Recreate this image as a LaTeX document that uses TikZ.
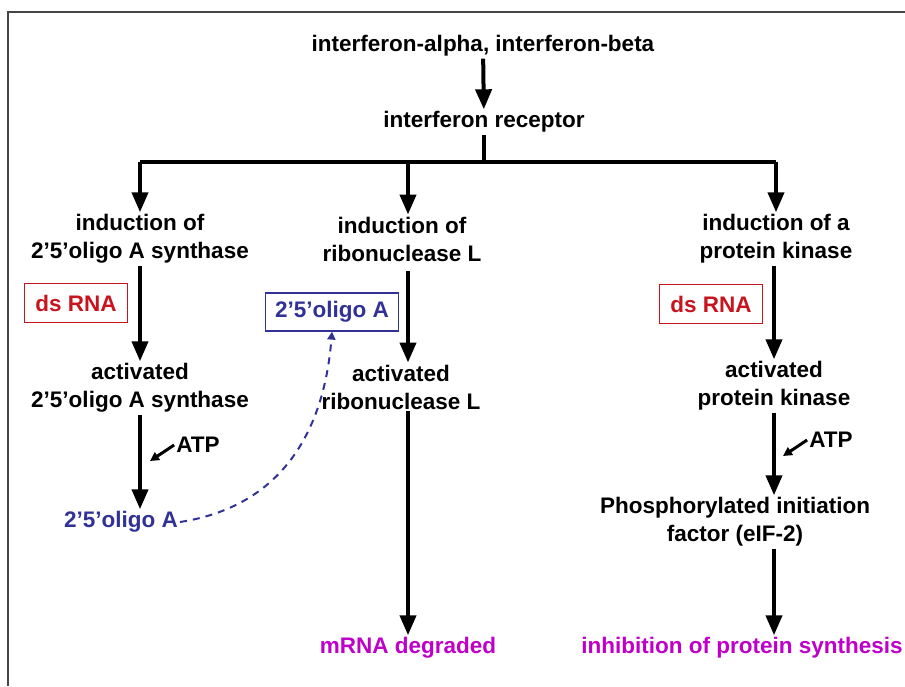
\documentclass[tikz,border=0pt]{standalone}
\usepackage{fontspec}
\setmainfont{Liberation Sans}
\usetikzlibrary{arrows.meta}
\definecolor{dsred}{RGB}{200,20,30}
\definecolor{oligoblue}{RGB}{50,50,150}
\definecolor{resmag}{RGB}{190,0,200}
\definecolor{framegray}{RGB}{70,70,70}
\begin{document}
\begin{tikzpicture}[x=1pt, y=-1pt, >={Triangle[width=16pt,length=20pt]},
  lbl/.style={font=\bfseries\fontsize{22.5}{28}\selectfont, align=center, inner sep=2pt},
  flow/.style={->, line width=4pt},
  atpflow/.style={-{Triangle[width=9pt,length=9pt]}, line width=3pt},
  redbox/.style={lbl, draw=dsred, text=dsred, line width=1.2pt, minimum width=103pt, minimum height=39pt},
  bluebox/.style={lbl, draw=oligoblue, text=oligoblue, line width=1.2pt, minimum width=133pt, minimum height=38pt},
  result/.style={lbl, text=resmag}]
  \useasboundingbox (0,0) rectangle (905,686);
  \clip (0,0) rectangle (905,686);
  % Frame
  \draw[framegray, line width=1.5pt] (8,686) -- (8,12) -- (905,12);

  % Top
  \node[lbl] (ifn) at (483,46) {interferon-alpha, interferon-beta};
  \node[lbl] (rec) at (484,122) {interferon receptor};
  \draw[flow] (ifn) -- (rec);

  % Branches
  \coordinate (bar) at (484,162);
  \coordinate (bar-l) at (140,162);
  \coordinate (bar-m) at (408,162);
  \coordinate (bar-r) at (776,162);
  \node[lbl] (ind-l) at (140,239) {induction of\\2'5'oligo A synthase};
  \node[lbl] (ind-m) at (402,239) {induction of\\ribonuclease L};
  \node[lbl] (ind-r) at (776,239) {induction of a\\protein kinase};
  \draw[line width=4pt] (rec) -- (bar);
  \draw[line width=4pt] (bar-l) -- (bar-r);
  \foreach \b/\n in {l/ind-l, m/ind-m, r/ind-r}
    \draw[flow] (bar-\b) -- (bar-\b |- \n.north);

  % Activation
  \node[lbl] (act-l) at (140,388) {activated\\2'5'oligo A synthase};
  \node[lbl] (act-m) at (401,387) {activated\\ribonuclease L};
  \node[lbl] (act-r) at (774,386) {activated\\protein kinase};
  \node[redbox] (ds-l) at (76,303) {ds RNA};
  \node[redbox] (ds-r) at (711,304) {ds RNA};
  \node[bluebox] (box-m) at (332,312) {2'5'oligo A};
  \draw[flow] (ind-l.south -| bar-l) -- (act-l.north -| bar-l);
  \draw[flow] ([yshift=-8pt]ind-m.south -| bar-m) -- (act-m.north -| bar-m);
  \draw[flow] (ind-r.south -| act-r) -- (act-r.north);

  % ATP steps
  \node[lbl] (olig-l) at (121,522) {\color{oligoblue}2'5'oligo A};
  \node[lbl] (phos) at (735,522) {Phosphorylated initiation\\factor (eIF-2)};
  \node[lbl] (atp-l) at (198,445) {ATP};
  \node[lbl] (atp-r) at (831,440) {ATP};
  \coordinate (atp-l-tip) at (150,461);
  \coordinate (atp-r-tip) at (783,456);
  \draw[flow] (act-l.south -| bar-l) -- (olig-l.north -| bar-l);
  \draw[flow] (act-r.south) -- (phos.north -| act-r);
  \draw[atpflow] (atp-l.west) -- (atp-l-tip);
  \draw[atpflow] (atp-r.west) -- (atp-r-tip);
  \draw[oligoblue, line width=2pt, dash pattern=on 7pt off 6pt, -{Triangle[width=8pt,length=8pt]}]
    (olig-l.east) .. controls (290,505) and (325,420) .. (box-m.south);

  % Results
  \node[result] (deg) at (408,648) {mRNA degraded};
  \node[result] (inh) at (742,648) {inhibition of protein synthesis};
  \draw[flow] (act-m.south -| bar-m) -- (deg.north -| bar-m);
  \draw[flow] (phos.south -| act-r) -- (inh.north -| act-r);
\end{tikzpicture}
\end{document}
